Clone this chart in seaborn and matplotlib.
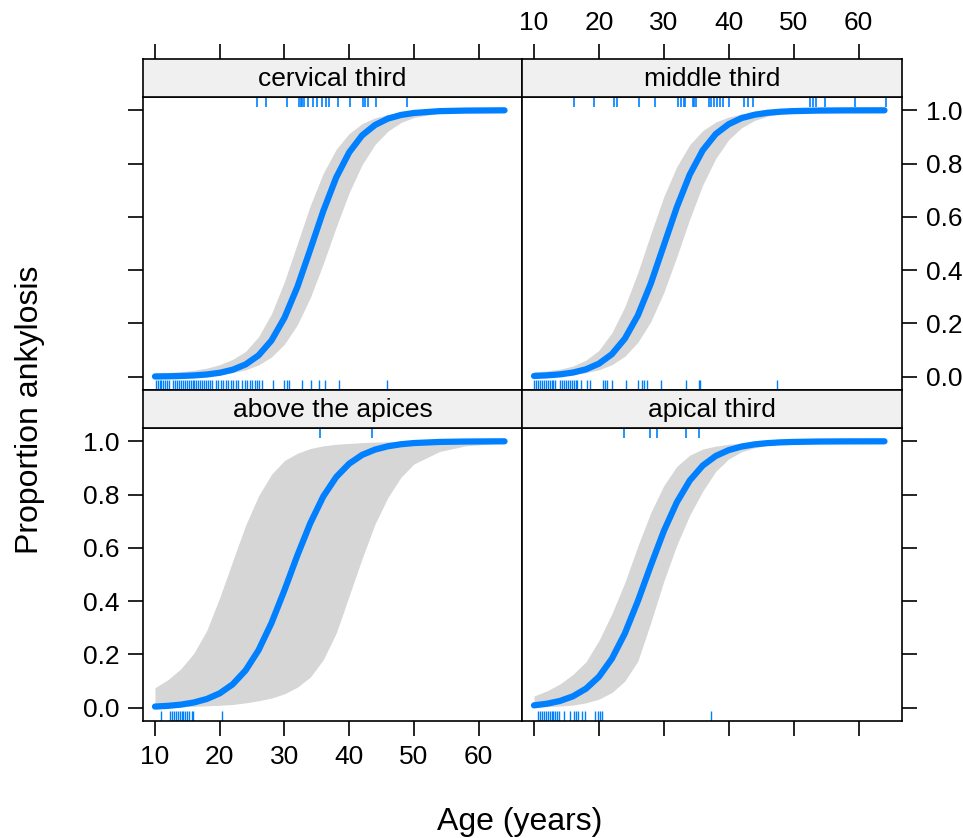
import matplotlib
matplotlib.use("Agg")
import matplotlib.pyplot as plt
import seaborn as sns
import pandas as pd

sns.set_style("white")
plt.rcParams["font.family"] = ["Liberation Sans", "DejaVu Sans"]
plt.rcParams["text.color"] = "black"
plt.rcParams["xtick.color"] = "black"
plt.rcParams["ytick.color"] = "black"
plt.rcParams["axes.labelcolor"] = "black"

BLUE = "#0080ff"
BAND = "#d6d6d6"
STRIP = "#f0f0f0"

ages = [10, 12, 14, 16, 18, 20, 22, 24, 26, 28, 30, 32, 34, 36, 38, 40,
        42, 44, 46, 48, 50, 54, 58, 64]

# cervical third
cerv_fit = [0.0008, 0.0014, 0.0026, 0.0046, 0.0082, 0.0146, 0.0261, 0.046, 0.080, 0.136,
            0.221, 0.337, 0.478, 0.622, 0.748, 0.842, 0.906, 0.945, 0.969, 0.9825,
            0.990, 0.997, 0.999, 1.0]
cerv_hi = [0.014, 0.016, 0.019, 0.024, 0.032, 0.045, 0.065, 0.095, 0.15, 0.236,
           0.357, 0.5, 0.643, 0.764, 0.854, 0.913, 0.950, 0.972, 0.984, 0.991,
           0.995, 0.998, 0.999, 1.0]
cerv_lo = [0.0005, 0.0009, 0.0016, 0.0028, 0.0049, 0.0086, 0.0148, 0.0256, 0.044, 0.074,
           0.122, 0.195, 0.297, 0.424, 0.562, 0.691, 0.796, 0.872, 0.922, 0.954,
           0.973, 0.991, 0.997, 0.9994]
cerv_yes = [25.7, 27.1, 30.4, 32.2, 32.5, 32.7, 33.0, 33.6, 34.4, 35.0, 35.8, 36.4, 36.9,
            38.2, 40.2, 42.1, 42.4, 42.9, 44.1, 49.0]
cerv_no = [10.2, 10.5, 10.8, 11.0, 11.3, 11.6, 11.9, 12.2, 12.8, 13.1, 13.4, 13.7, 14.0,
           14.3, 14.6, 14.9, 15.2, 15.5, 15.8, 16.1, 16.4, 16.7, 17.0, 17.3, 17.6, 17.9,
           18.2, 18.5, 18.8, 19.4, 19.7, 20.2, 20.5, 21.0, 21.3, 21.7, 22.0, 22.5, 22.8,
           23.4, 23.9, 24.2, 24.7, 25.0, 25.4, 25.7, 26.0, 26.5, 28.2, 29.9, 30.4, 30.7,
           32.7, 34.1, 35.3, 36.2, 38.4, 45.8]

# middle third
mid_fit = [0.0027, 0.0049, 0.0087, 0.0155, 0.0276, 0.0488, 0.0845, 0.143, 0.230, 0.350,
           0.493, 0.636, 0.759, 0.850, 0.911, 0.948, 0.971, 0.9835, 0.9908, 0.9948,
           0.9971, 0.9991, 0.9997, 1.0]
mid_hi = [0.018, 0.022, 0.028, 0.040, 0.062, 0.099, 0.165, 0.263, 0.391, 0.537,
          0.676, 0.789, 0.871, 0.924, 0.956, 0.975, 0.986, 0.992, 0.9957, 0.9976,
          0.9987, 0.9996, 0.9999, 1.0]
mid_lo = [0.0015, 0.0027, 0.0048, 0.0084, 0.0148, 0.0258, 0.0448, 0.0766, 0.129, 0.207,
          0.316, 0.450, 0.592, 0.720, 0.819, 0.890, 0.935, 0.962, 0.978, 0.9875,
          0.9929, 0.9977, 0.9993, 1.0]
mid_yes = [16.2, 19.2, 22.4, 22.8, 26.2, 28.6, 32.2, 32.6, 33.1, 33.3, 34.5, 34.7, 35.0,
           36.9, 37.3, 37.7, 38.2, 38.7, 39.1, 40.0, 42.4, 42.9, 43.8, 52.6, 53.0, 53.4,
           54.8, 59.5, 64.3]
mid_no = [10.0, 10.3, 10.6, 10.9, 11.2, 11.5, 11.8, 12.1, 12.4, 12.7, 13.0, 13.3, 14.0,
          14.3, 14.6, 14.9, 15.2, 15.5, 15.8, 16.1, 16.4, 16.7, 17.3, 18.1, 18.7, 20.6,
          21.0, 21.3, 22.0, 24.1, 26.0, 26.7, 27.0, 27.4, 29.5, 33.4, 35.4, 35.6, 47.4]

# above the apices
abv_fit = [0.0042, 0.0069, 0.0115, 0.0195, 0.0326, 0.0538, 0.0877, 0.140, 0.216, 0.318,
           0.441, 0.572, 0.693, 0.793, 0.866, 0.916, 0.949, 0.969, 0.9815, 0.989,
           0.9935, 0.9977, 0.9992, 1.0]
abv_hi = [0.075, 0.105, 0.146, 0.204, 0.29, 0.413, 0.55, 0.685, 0.795, 0.876,
          0.928, 0.955, 0.973, 0.983, 0.989, 0.992, 0.995, 0.997, 0.998, 0.9985,
          0.999, 0.9995, 1.0, 1.0]
abv_lo = [0.002, 0.003, 0.004, 0.005, 0.007, 0.009, 0.012, 0.018, 0.026, 0.036,
          0.052, 0.077, 0.115, 0.18, 0.28, 0.42, 0.56, 0.69, 0.79, 0.865,
          0.915, 0.962, 0.983, 0.994]
abv_yes = [35.5, 43.5]
abv_no = [11.0, 12.3, 12.6, 12.9, 13.2, 13.5, 13.8, 14.1, 14.4, 14.6, 14.9, 15.3, 15.7,
          15.9, 20.4]

# apical third
apic_fit = [0.0088, 0.0149, 0.0253, 0.0427, 0.0712, 0.116, 0.184, 0.279, 0.400, 0.534,
            0.663, 0.771, 0.853, 0.909, 0.945, 0.967, 0.9805, 0.9886, 0.9933, 0.9961,
            0.9977, 0.9992, 0.9997, 1.0]
apic_hi = [0.044, 0.063, 0.089, 0.125, 0.172, 0.252, 0.353, 0.47, 0.607, 0.733,
           0.834, 0.906, 0.948, 0.971, 0.982, 0.989, 0.993, 0.995, 0.997, 0.998,
           0.999, 0.9995, 1.0, 1.0]
apic_lo = [0.003, 0.004, 0.006, 0.010, 0.018, 0.032, 0.057, 0.10, 0.175, 0.32,
           0.475, 0.61, 0.723, 0.813, 0.887, 0.934, 0.961, 0.976, 0.985, 0.99,
           0.993, 0.997, 0.999, 1.0]
apic_yes = [23.9, 27.8, 29.0, 33.4, 35.4]
apic_no = [10.6, 10.9, 11.2, 11.5, 11.8, 12.1, 12.4, 12.7, 13.0, 13.3, 13.6, 13.8, 14.6,
           15.6, 16.1, 16.4, 16.8, 17.4, 17.9, 19.4, 19.8, 20.2, 20.5, 37.3]

panels = [
    ("cervical third", cerv_fit, cerv_lo, cerv_hi, cerv_yes, cerv_no),
    ("middle third", mid_fit, mid_lo, mid_hi, mid_yes, mid_no),
    ("above the apices", abv_fit, abv_lo, abv_hi, abv_yes, abv_no),
    ("apical third", apic_fit, apic_lo, apic_hi, apic_yes, apic_no),
]

x_ticks = [10, 20, 30, 40, 50, 60]
y_ticks = [0.0, 0.2, 0.4, 0.6, 0.8, 1.0]
y_labels = ["0.0", "0.2", "0.4", "0.6", "0.8", "1.0"]
XLIM = (8.15, 66.7)
TICK_FS = 19

W, H = 963, 838
fig = plt.figure(figsize=(W / 100, H / 100), dpi=100)


def rect(x0, y0, x1, y1):
    # pixel box -> figure fraction
    return [x0 / W, 1 - y1 / H, (x1 - x0) / W, (y1 - y0) / H]


def black_frame(a):
    for s in a.spines.values():
        s.set_color("black")
        s.set_linewidth(1.2)


cols = [(143, 522), (522, 902)]
rows = [((59, 97), (97, 390)), ((390, 428), (428, 721))]

for i, (name, fit, lo, hi, yes, no) in enumerate(panels):
    r, c = divmod(i, 2)
    xa, xb = cols[c]
    (sa, sb), (pa, pb) = rows[r]

    ax = fig.add_axes(rect(xa, pa, xb, pb))
    ax.fill_between(ages, lo, hi, color=BAND, lw=0)
    df = pd.DataFrame({"age": ages, "p": fit})
    sns.lineplot(data=df, x="age", y="p", ax=ax, color=BLUE, lw=4.5,
                 solid_capstyle="round")
    sns.rugplot(x=no, ax=ax, height=0.034, color=BLUE, lw=1.2,
                expand_margins=False)
    ax.vlines(yes, 0.966, 1.0, transform=ax.get_xaxis_transform(),
              color=BLUE, lw=1.2)

    ax.set_xlim(*XLIM)
    ax.set_ylim(-0.05, 1.05)
    ax.set_xticks(x_ticks)
    ax.set_yticks(y_ticks)
    ax.set_yticklabels(y_labels)
    ax.set_xlabel("")
    ax.set_ylabel("")
    black_frame(ax)

    ax.tick_params(direction="out", length=11, width=1.2, color="black",
                   labelsize=TICK_FS, pad=6, top=False, labeltop=False,
                   bottom=(r == 1), labelbottom=(r == 1 and c == 0),
                   left=(c == 0), right=(c == 1),
                   labelleft=(r == 1 and c == 0), labelright=(r == 0 and c == 1))

    # strip on top of each panel; the top row carries the upper x axis
    sx = fig.add_axes(rect(xa, sa, xb, sb))
    sx.set_facecolor(STRIP)
    sx.set_xlim(*XLIM)
    sx.set_yticks([])
    if r == 0:
        sx.set_xticks(x_ticks)
        sx.tick_params(axis="x", direction="out", length=11, width=1.2,
                       color="black", labelsize=TICK_FS, pad=6,
                       top=True, bottom=False, labelbottom=False,
                       labeltop=(c == 1))
    else:
        sx.set_xticks([])
    black_frame(sx)
    sx.text(0.5, 0.47, name, ha="center", va="center", fontsize=19,
            transform=sx.transAxes)

fig.text(30 / W, 1 - 410 / H, "Proportion ankylosis", rotation=90,
         ha="center", va="center", fontsize=23)
fig.text(520 / W, 1 - 822 / H, "Age (years)", ha="center", va="center",
         fontsize=23)

fig.savefig("out.png", dpi=100)
